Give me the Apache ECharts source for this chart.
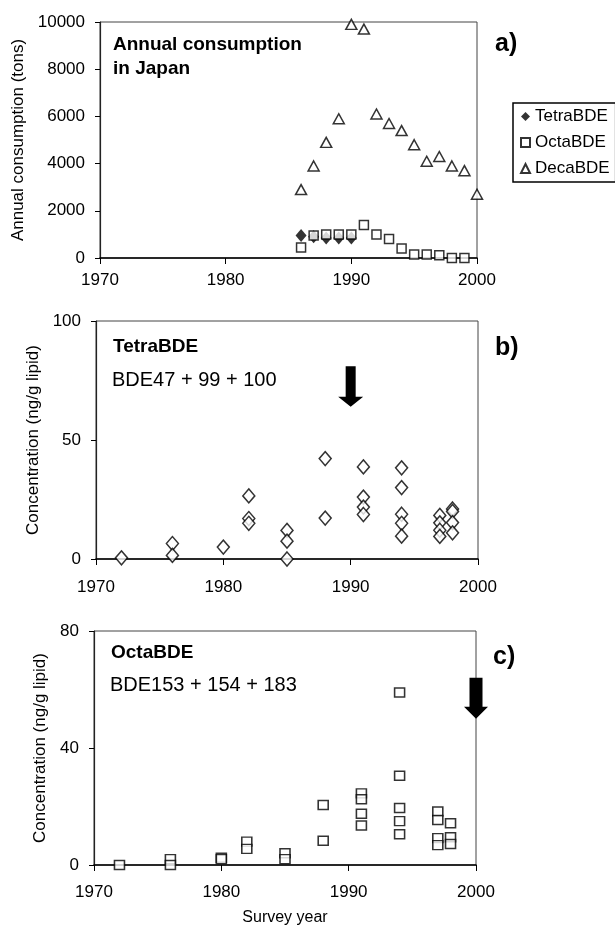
<!DOCTYPE html>
<html>
<head>
<meta charset="utf-8">
<title>PBDE consumption and concentrations</title>
<script src="https://cdn.jsdelivr.net/npm/echarts@6/dist/echarts.min.js"></script>
<style>
  html, body { margin: 0; padding: 0; background: #fff; }
  #chart { width: 615px; height: 930px; }
</style>
</head>
<body>
<div id="chart"></div>
<script>
// a) annual consumption in Japan (tons)
const tetraYears = [1986, 1987, 1988, 1989, 1990];
const tetraTons = [950, 900, 850, 850, 850];
const octaYears = [1986, 1987, 1988, 1989, 1990, 1991, 1992, 1993, 1994, 1995, 1996, 1997, 1998, 1999];
const octaTons = [450, 950, 1000, 1000, 1000, 1400, 1000, 800, 400, 150, 150, 120, 0, 0];
const decaYears = [1986, 1987, 1988, 1989, 1990, 1991, 1992, 1993, 1994, 1995, 1996, 1997, 1998, 1999, 2000];
const decaTons = [2900, 3900, 4900, 5900, 9900, 9700, 6100, 5700, 5400, 4800, 4100, 4300, 3900, 3700, 2700];

// b) TetraBDE (BDE47 + 99 + 100), ng/g lipid
const tetraSurveyYears = [1972, 1976, 1976, 1980, 1982, 1982, 1982, 1985, 1985, 1985, 1988, 1988,
  1991, 1991, 1991, 1991, 1994, 1994, 1994, 1994, 1994, 1997, 1997, 1997, 1997, 1998, 1998, 1998, 1998];
const tetraSurveyConc = [0.5, 6.5, 1.5, 5, 26.5, 17, 15, 12, 7.5, 0, 42.2, 17.2,
  38.7, 26, 21.8, 18.7, 38.3, 30, 18.8, 15, 9.6, 18.3, 15.2, 12.1, 9.5, 21, 20, 15.3, 11];

// c) OctaBDE (BDE153 + 154 + 183), ng/g lipid
const octaSurveyYears = [1972, 1976, 1976, 1980, 1980, 1982, 1982, 1985, 1985, 1988, 1988,
  1991, 1991, 1991, 1991, 1994, 1994, 1994, 1994, 1994, 1997, 1997, 1997, 1997, 1998, 1998, 1998];
const octaSurveyConc = [0, 2, 0, 2.5, 2, 8, 5.5, 4, 2, 20.5, 8.3,
  24.5, 22.5, 17.5, 13.5, 59, 30.5, 19.5, 15, 10.5, 18.3, 15.4, 9.2, 6.8, 14.3, 9.5, 7.2];

// arrows: [year, from, to]
const arrowB = [[1990, 81, 64]];
const arrowC = [[2000, 64, 50]];

const yearTicks = { min: 1970, max: 2000, interval: 10 };

const FONT = 'Liberation Sans, Arial, sans-serif';

const pairs = (xs, ys) => xs.map((x, i) => [x, ys[i]]);
const plain = v => String(v);

function xAxisFor(gridIndex, margin, name) {
  return {
    type: 'value', gridIndex: gridIndex,
    min: yearTicks.min, max: yearTicks.max, interval: yearTicks.interval,
    name: name || '', nameLocation: 'middle', nameGap: 45,
    nameTextStyle: { fontFamily: FONT, fontSize: 16, color: '#000' },
    axisLine: { lineStyle: { color: '#000', width: 1.5 } },
    axisTick: { show: true, inside: false, length: 6, lineStyle: { color: '#000' } },
    axisLabel: { margin: margin, fontFamily: FONT, fontSize: 17, color: '#000', formatter: plain },
    splitLine: { show: false }
  };
}

function yAxisFor(gridIndex, max, interval, name, nameGap) {
  return {
    type: 'value', gridIndex: gridIndex,
    min: 0, max: max, interval: interval,
    name: name, nameLocation: 'middle', nameGap: nameGap,
    nameTextStyle: { fontFamily: FONT, fontSize: 17, color: '#000' },
    axisLine: { show: true, lineStyle: { color: '#222', width: 1.2 } },
    axisTick: { show: true, inside: false, length: 5, lineStyle: { color: '#000' } },
    axisLabel: { margin: 15, fontFamily: FONT, fontSize: 17, color: '#000', formatter: plain },
    splitLine: { show: false }
  };
}

function arrowRenderer(shaftW, headW, headH) {
  return function (params, api) {
    const top = api.coord([api.value(0), api.value(1)]);
    const tip = api.coord([api.value(0), api.value(2)]);
    const x = tip[0];
    const neck = tip[1] - headH;
    return {
      type: 'polygon',
      shape: {
        points: [
          [x - shaftW / 2, top[1]], [x + shaftW / 2, top[1]],
          [x + shaftW / 2, neck], [x + headW / 2, neck],
          [x, tip[1]],
          [x - headW / 2, neck], [x - shaftW / 2, neck]
        ]
      },
      style: { fill: '#000' }
    };
  };
}

const hollow = { color: '#fff', borderColor: '#000', borderWidth: 1.5 };

const chart = echarts.init(document.getElementById('chart'), null, { renderer: 'canvas' });

const option = {
  backgroundColor: '#fff',
  animation: false,
  grid: [
    { left: 100, top: 22, width: 377, height: 236, show: true, borderColor: '#444', borderWidth: 1 },
    { left: 96, top: 321, width: 382, height: 238, show: true, borderColor: '#444', borderWidth: 1 },
    { left: 94, top: 631, width: 382, height: 234, show: true, borderColor: '#444', borderWidth: 1 }
  ],
  xAxis: [
    xAxisFor(0, 14),
    xAxisFor(1, 20),
    xAxisFor(2, 19, 'Survey year')
  ],
  yAxis: [
    yAxisFor(0, 10000, 2000, 'Annual consumption (tons)', 57),
    yAxisFor(1, 100, 50, 'Concentration (ng/g lipid)', 54),
    yAxisFor(2, 80, 40, 'Concentration (ng/g lipid)', 41)
  ],
  legend: {
    data: ['TetraBDE', 'OctaBDE', 'DecaBDE'],
    orient: 'vertical',
    left: 513, top: 103,
    itemWidth: 9, itemHeight: 9, itemGap: 9,
    padding: [5, 6, 5, 7],
    borderColor: '#000', borderWidth: 1.5,
    selectedMode: false,
    textStyle: { fontFamily: FONT, fontSize: 17, color: '#000' }
  },
  series: [
    {
      name: 'TetraBDE', type: 'scatter', xAxisIndex: 0, yAxisIndex: 0,
      symbol: 'diamond', symbolSize: [11, 13], clip: false,
      itemStyle: { color: '#000' },
      data: pairs(tetraYears, tetraTons)
    },
    {
      name: 'OctaBDE', type: 'scatter', xAxisIndex: 0, yAxisIndex: 0,
      symbol: 'rect', symbolSize: [9, 9], clip: false,
      itemStyle: hollow,
      data: pairs(octaYears, octaTons)
    },
    {
      name: 'DecaBDE', type: 'scatter', xAxisIndex: 0, yAxisIndex: 0,
      symbol: 'triangle', symbolSize: [11, 10], clip: false,
      itemStyle: hollow,
      data: pairs(decaYears, decaTons)
    },
    {
      name: 'TetraBDE survey', type: 'scatter', xAxisIndex: 1, yAxisIndex: 1,
      symbol: 'diamond', symbolSize: [12, 14], clip: false,
      itemStyle: hollow,
      data: pairs(tetraSurveyYears, tetraSurveyConc)
    },
    {
      name: 'OctaBDE survey', type: 'scatter', xAxisIndex: 2, yAxisIndex: 2,
      symbol: 'rect', symbolSize: [10, 9], clip: false,
      itemStyle: hollow,
      data: pairs(octaSurveyYears, octaSurveyConc)
    },
    {
      name: 'arrow b', type: 'custom', xAxisIndex: 1, yAxisIndex: 1,
      renderItem: arrowRenderer(10, 25, 10),
      data: arrowB
    },
    {
      name: 'arrow c', type: 'custom', xAxisIndex: 2, yAxisIndex: 2,
      renderItem: arrowRenderer(13, 24, 12),
      data: arrowC
    }
  ],
  graphic: [
    { type: 'text', left: 113, top: 33,
      style: { text: 'Annual consumption\nin Japan', font: 'bold 19px ' + FONT, lineHeight: 24, fill: '#000' } },
    { type: 'text', left: 495, top: 32,
      style: { text: 'a)', font: 'bold 25px ' + FONT, fill: '#000' } },
    { type: 'text', left: 113, top: 337,
      style: { text: 'TetraBDE', font: 'bold 19px ' + FONT, fill: '#000' } },
    { type: 'text', left: 112, top: 370,
      style: { text: 'BDE47 + 99 + 100', font: '20px ' + FONT, fill: '#000' } },
    { type: 'text', left: 495, top: 336,
      style: { text: 'b)', font: 'bold 25px ' + FONT, fill: '#000' } },
    { type: 'text', left: 111, top: 643,
      style: { text: 'OctaBDE', font: 'bold 19px ' + FONT, fill: '#000' } },
    { type: 'text', left: 110, top: 675,
      style: { text: 'BDE153 + 154 + 183', font: '20px ' + FONT, fill: '#000' } },
    { type: 'text', left: 493, top: 645,
      style: { text: 'c)', font: 'bold 25px ' + FONT, fill: '#000' } }
  ]
};

chart.setOption(option);
</script>
</body>
</html>
